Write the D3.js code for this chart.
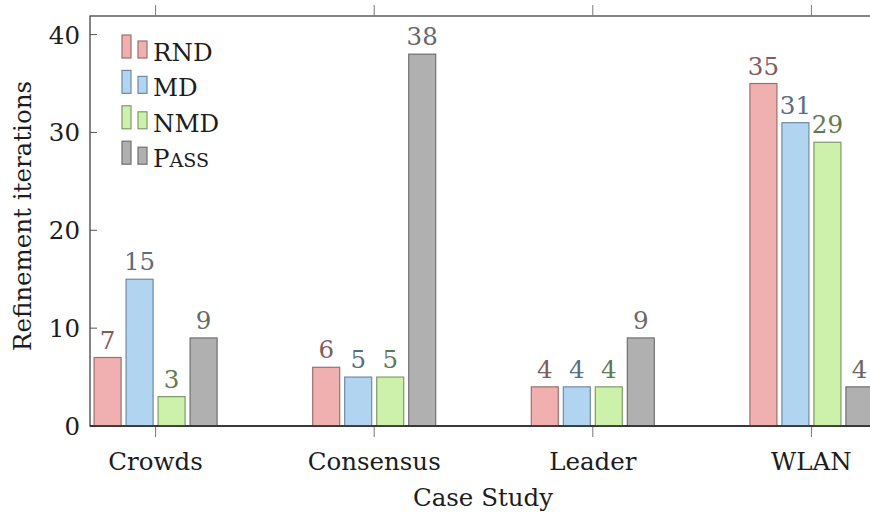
<!DOCTYPE html>
<html>
<head>
<meta charset="utf-8">
<script src="https://cdn.jsdelivr.net/npm/d3@7"></script>
<style>
  html, body { margin: 0; padding: 0; background: #fff; overflow: hidden; }
</style>
</head>
<body>
<svg id="chart" width="870" height="514"></svg>
<script>
// Case studies along the x axis
const categories = ["Crowds", "Consensus", "Leader", "WLAN"];

// Refinement iterations per strategy
const seriesNames = ["RND", "MD", "NMD", "Pass"];
const rnd  = [7, 6, 4, 35];
const md   = [15, 5, 4, 31];
const nmd  = [3, 5, 4, 29];
const pass = [9, 38, 9, 4];
const seriesValues = [rnd, md, nmd, pass];

const yTicks = [0, 10, 20, 30, 40];

// Styling per series: fill, outline, label colour
const fills   = ["#f0b0b0", "#b1d4f0", "#cdf0aa", "#b0b0b0"];
const strokes = ["#9a7070", "#7289a3", "#7f9a69", "#707070"];
const labelCols = ["#875a5a", "#5a6d86", "#627a50", "#686868"];

const FONT = "'DejaVu Serif', serif";
const INK = "#1c1c1c";

const svg = d3.select("#chart").attr("font-family", FONT);
const fontSize = 24.5;

const plotL = 90, plotR = 877, plotT = 16, plotB = 426;

const x = d3.scaleLinear().domain([-0.3, 3.3]).range([plotL, plotR]);
const y = d3.scaleLinear().domain([0, 41.9]).range([plotB, plotT]);

// bar geometry in category units
const barStep = 0.1464, barW = 0.1235;
const pxW = x(barW) - x(0);

// axis frame
const frame = svg.append("g");
frame.append("rect")
  .attr("x", plotL).attr("y", plotT)
  .attr("width", plotR - plotL).attr("height", plotB - plotT)
  .attr("fill", "none").attr("stroke", "#444").attr("stroke-width", 1.3);

// y ticks (inside on both sides)
yTicks.forEach(t => {
  frame.append("line").attr("x1", plotL).attr("x2", plotL + 7)
    .attr("y1", y(t)).attr("y2", y(t)).attr("stroke", "#555").attr("stroke-width", 1);
  frame.append("line").attr("x1", plotR).attr("x2", plotR - 7)
    .attr("y1", y(t)).attr("y2", y(t)).attr("stroke", "#555").attr("stroke-width", 1);
});

// x ticks (outside on both sides)
categories.forEach((c, i) => {
  frame.append("line").attr("x1", x(i)).attr("x2", x(i))
    .attr("y1", plotB).attr("y2", plotB + 11).attr("stroke", "#777").attr("stroke-width", 1);
  frame.append("line").attr("x1", x(i)).attr("x2", x(i))
    .attr("y1", plotT).attr("y2", plotT - 11).attr("stroke", "#777").attr("stroke-width", 1);
});

// bars with value labels
const bars = svg.append("g");
seriesValues.forEach((vals, s) => {
  const off = (s - 1.5) * barStep;
  vals.forEach((v, i) => {
    const cx = x(i + off);
    bars.append("rect")
      .attr("x", cx - pxW / 2)
      .attr("y", y(v))
      .attr("width", pxW)
      .attr("height", y(0) - y(v))
      .attr("fill", fills[s])
      .attr("stroke", strokes[s])
      .attr("stroke-width", 1.2);
    bars.append("text")
      .attr("x", cx)
      .attr("y", y(v) - 9)
      .attr("text-anchor", "middle")
      .attr("font-size", fontSize)
      .attr("fill", labelCols[s])
      .text(v);
  });
});

// redraw baseline over the bars
svg.append("line").attr("x1", plotL).attr("x2", plotR)
  .attr("y1", plotB).attr("y2", plotB).attr("stroke", "#222").attr("stroke-width", 1.5);

// y tick labels
yTicks.forEach(t => {
  svg.append("text")
    .attr("x", 80).attr("y", y(t) + 9)
    .attr("text-anchor", "end")
    .attr("font-size", fontSize)
    .attr("fill", INK)
    .text(t);
});

// x tick labels
categories.forEach((c, i) => {
  svg.append("text")
    .attr("x", x(i)).attr("y", 470)
    .attr("text-anchor", "middle")
    .attr("font-size", fontSize)
    .attr("fill", INK)
    .text(c);
});

// axis titles
svg.append("text")
  .attr("x", 483).attr("y", 506)
  .attr("text-anchor", "middle")
  .attr("font-size", fontSize)
  .attr("fill", INK)
  .text("Case Study");

svg.append("text")
  .attr("transform", `translate(31, ${(plotT + plotB) / 2 - 5}) rotate(-90)`)
  .attr("text-anchor", "middle")
  .attr("font-size", fontSize)
  .attr("fill", INK)
  .text("Refinement iterations");

// legend
const legend = svg.append("g");
seriesNames.forEach((name, s) => {
  const by = 58 + s * 35.4;
  legend.append("rect").attr("x", 122).attr("y", by - 23).attr("width", 9).attr("height", 23)
    .attr("fill", fills[s]).attr("stroke", strokes[s]).attr("stroke-width", 1.2);
  legend.append("rect").attr("x", 138).attr("y", by - 17).attr("width", 9).attr("height", 17)
    .attr("fill", fills[s]).attr("stroke", strokes[s]).attr("stroke-width", 1.2);
  const t = legend.append("text")
    .attr("x", 153).attr("y", by + 3)
    .attr("font-size", fontSize)
    .attr("fill", INK);
  if (name === "Pass") {
    t.append("tspan").text("P");
    t.append("tspan").attr("font-size", fontSize * 0.78).text("ASS");
  } else {
    t.text(name);
  }
});
</script>
</body>
</html>
